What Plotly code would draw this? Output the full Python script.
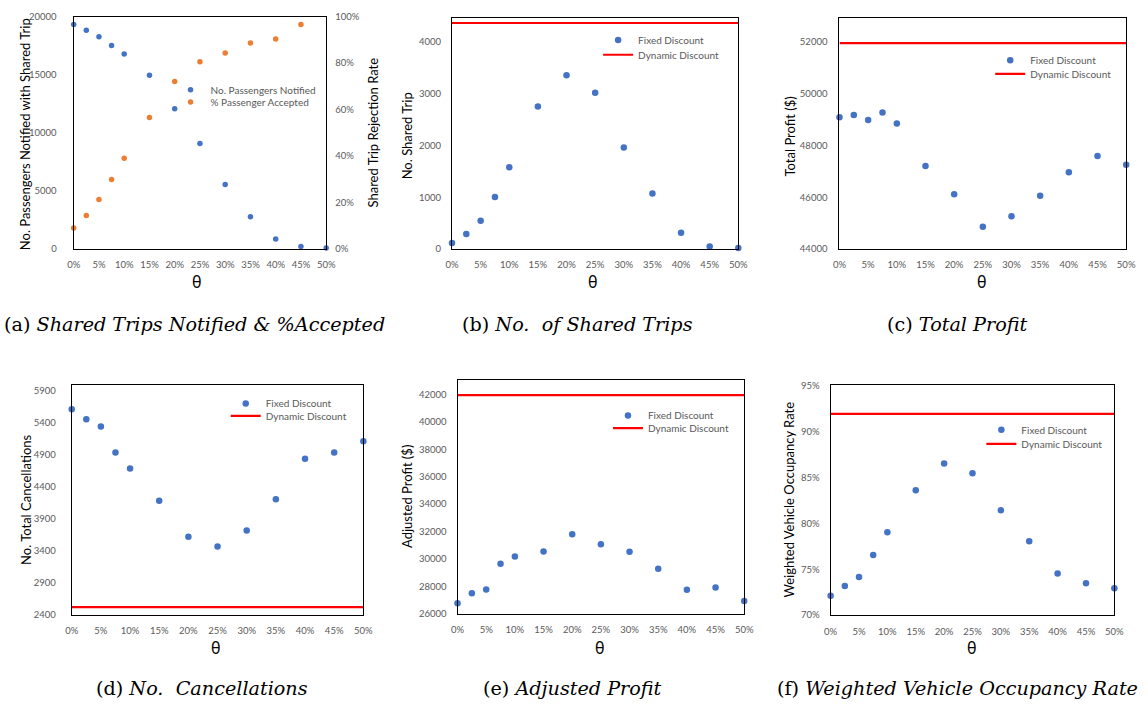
import plotly.graph_objects as go

W, H = 1148, 711

# ---------------- data ----------------
theta = [0.0, 0.025, 0.05, 0.075, 0.10, 0.15, 0.20, 0.25, 0.30, 0.35, 0.40, 0.45, 0.50]
theta_accepted = theta[:12]

passengers_notified = [19320, 18810, 18250, 17510, 16780, 14940, 12060, 9070, 5540, 2770, 850, 200, 85]
pct_accepted = [0.090, 0.144, 0.213, 0.299, 0.390, 0.565, 0.720, 0.805, 0.843, 0.886, 0.903, 0.966]

shared_trips_fixed = [114, 286, 546, 1003, 1581, 2756, 3359, 3022, 1962, 1073, 311, 44, 19]
shared_trips_dynamic = 4370

profit_fixed = [49090, 49180, 48990, 49280, 48850, 47210, 46110, 44860, 45260, 46060, 46970, 47590, 47260]
profit_dynamic = 51960

cancel_fixed = [5603, 5445, 5333, 4929, 4679, 4178, 3616, 3463, 3713, 4198, 4832, 4929, 5103]
cancel_dynamic = 2518

adj_profit_fixed = [26770, 27490, 27770, 29640, 30170, 30550, 31800, 31080, 30530, 29280, 27750, 27920, 26930]
adj_profit_dynamic = 41950

occupancy_fixed = [0.7211, 0.7319, 0.7415, 0.7655, 0.7903, 0.8361, 0.8655, 0.8547, 0.8143, 0.7806, 0.7455, 0.7347, 0.7294]
occupancy_dynamic = 0.9196

legend_fixed = "Fixed Discount"
legend_dynamic = "Dynamic Discount"

captions = [
    ("(a) ", "Shared Trips Notified &amp; %Accepted"),
    ("(b) ", "No.  of Shared Trips"),
    ("(c) ", "Total Profit"),
    ("(d) ", "No.  Cancellations"),
    ("(e) ", "Adjusted Profit"),
    ("(f) ", "Weighted Vehicle Occupancy Rate"),
]
y_titles = [
    "No. Passengers Notified with Shared Trip",
    "No. Shared Trip",
    "Total Profit ($)",
    "No. Total Cancellations",
    "Adjusted Profit ($)",
    "Weighted Vehicle Occupancy Rate",
]

# ---------------- style ----------------
BLUE = "#4472C4"
ORANGE = "#ED7D31"
RED = "#FF0000"
GRAY = "#595959"
SANS = "Lato, 'Noto Sans', sans-serif"
SERIF = "'DejaVu Serif', serif"

def px_x(p):
    return p / W

def px_y(p):
    return 1 - p / H

# plot areas in pixels: (left, right, top, bottom)
areas = [
    (67.7, 324.0, 10.7, 246.7),
    (451.7, 742.3, 11.7, 246.7),
    (845.0, 1136.0, 12.3, 246.7),
    (65.7, 361.7, 385.0, 618.3),
    (457.3, 748.3, 380.0, 617.3),
    (836.0, 1124.0, 385.0, 618.7),
]

fig = go.Figure()

def ax_names(i):
    s = "" if i == 0 else str(i + 1)
    return "x" + s, "y" + s, "xaxis" + s, "yaxis" + s

layout = dict(
    width=W, height=H,
    margin=dict(l=0, r=0, t=0, b=0),
    paper_bgcolor="white", plot_bgcolor="white",
    showlegend=True,
    font=dict(family=SANS, color=GRAY),
)

y_specs = [
    dict(range=[0, 20000], dtick=5000, tick0=0, tickformat="d", standoff=14),
    dict(range=[0, 4476], dtick=1000, tick0=0, tickformat="d", standoff=8),
    dict(range=[44000, 52930], dtick=2000, tick0=44000, tickformat="d", standoff=9),
    dict(range=[2400, 5980], dtick=500, tick0=2400, tickformat="d", standoff=13),
    dict(range=[26000, 43050], dtick=2000, tick0=26000, tickformat="d", standoff=8),
    dict(range=[0.70, 0.951], dtick=0.05, tick0=0.70, tickformat=".0%", standoff=8),
]

for i, (l, r, t, b) in enumerate(areas):
    xn, yn, xk, yk = ax_names(i)
    layout[xk] = dict(
        domain=[px_x(l), px_x(r)], anchor=yn, range=[0, 0.5], dtick=0.05, tick0=0,
        tickformat=".0%", showgrid=False, zeroline=False, showline=True, mirror=True,
        linecolor="black", linewidth=1.3, ticks="", ticklabelstandoff=7,
        tickfont=dict(family=SANS, size=9.5, color=GRAY),
    )
    ys = y_specs[i]
    layout[yk] = dict(
        domain=[px_y(b), px_y(t)], anchor=xn, range=ys["range"], dtick=ys["dtick"],
        tick0=ys["tick0"], tickformat=ys["tickformat"], showgrid=False, zeroline=False,
        showline=True, mirror=True, linecolor="black", linewidth=1.3, ticks="",
        ticklabelstandoff=ys["standoff"],
        tickfont=dict(family=SANS, size=9.5, color=GRAY),
    )

# right axis for panel (a)
layout["yaxis7"] = dict(
    overlaying="y", anchor="x", side="right", range=[0, 1], dtick=0.2, tick0=0,
    tickformat=".0%", showgrid=False, zeroline=False, showline=False, ticks="",
    ticklabelstandoff=8, tickfont=dict(family=SANS, size=9.5, color=GRAY),
)

# ---------------- traces ----------------
def add_legend(name, x_px, y_px):
    layout[name] = dict(
        x=px_x(x_px), y=px_y(y_px), xanchor="left", yanchor="middle",
        xref="paper", yref="paper", bgcolor="rgba(0,0,0,0)", borderwidth=0,
        font=dict(family=SANS, size=10, color=GRAY),
        itemwidth=30,
    )

mk = dict(size=6.5, color=BLUE)

# (a)
fig.add_trace(go.Scatter(x=theta, y=passengers_notified, mode="markers", name="No. Passengers Notified",
                         marker=dict(size=5.5, color=BLUE), xaxis="x", yaxis="y",
                         cliponaxis=False, legend="legend"))
fig.add_trace(go.Scatter(x=theta_accepted, y=pct_accepted, mode="markers", name="% Passenger Accepted",
                         marker=dict(size=5.5, color=ORANGE), xaxis="x", yaxis="y7",
                         cliponaxis=False, legend="legend2"))
add_legend("legend", 166, 85.0)
add_legend("legend2", 166, 97.5)

panel_data = [
    (shared_trips_fixed, shared_trips_dynamic, (600, 34.5, 49.5)),
    (profit_fixed, profit_dynamic, (998, 55.0, 69.0)),
    (cancel_fixed, cancel_dynamic, (222, 403.7, 416.3)),
    (adj_profit_fixed, adj_profit_dynamic, (610, 416.0, 428.7)),
    (occupancy_fixed, occupancy_dynamic, (989, 430.3, 444.7)),
]

leg_idx = 3
for k, (fixed, dyn, (lx, ly1, ly2)) in enumerate(panel_data):
    i = k + 1
    xn, yn, _, _ = ax_names(i)
    l1 = "legend" + str(leg_idx)
    l2 = "legend" + str(leg_idx + 1)
    leg_idx += 2
    fig.add_trace(go.Scatter(x=theta, y=fixed, mode="markers", name=legend_fixed,
                             marker=mk, xaxis=xn, yaxis=yn, cliponaxis=False, legend=l1))
    fig.add_trace(go.Scatter(x=[theta[0], theta[-1]], y=[dyn, dyn], mode="lines", name=legend_dynamic,
                             line=dict(color=RED, width=2.2), xaxis=xn, yaxis=yn, legend=l2))
    add_legend(l1, lx, ly1)
    add_legend(l2, lx, ly2)

# ---------------- annotations ----------------
ann = []
ytitle_pos = [(19, 130.5), (405.7, 131.7), (794.3, 133), (19.3, 501.7), (406.7, 498), (793.3, 501.7)]
theta_pos = [(193, 280), (595, 280), (990, 280), (212.3, 651.7), (602.3, 651.7), (980, 652)]
caption_pos = [(-5, 323), (460, 323), (891, 323), (88, 693), (481, 693), (780, 693)]

for i in range(6):
    x, y = ytitle_pos[i]
    ann.append(dict(x=px_x(x), y=px_y(y), xref="paper", yref="paper", text=y_titles[i],
                    textangle=-90, showarrow=False, xanchor="center", yanchor="middle",
                    font=dict(family=SANS, size=13, color="#000000")))
    x, y = theta_pos[i]
    ann.append(dict(x=px_x(x), y=px_y(y), xref="paper", yref="paper", text="θ",
                    showarrow=False, xanchor="center", yanchor="middle",
                    font=dict(family="'Noto Sans', sans-serif", size=16, color="#000000")))
    x, y = caption_pos[i]
    lab, cap = captions[i]
    ann.append(dict(x=px_x(x), y=px_y(y), xref="paper", yref="paper",
                    text=lab + "<i>" + cap + "</i>",
                    showarrow=False, xanchor="left", yanchor="middle",
                    font=dict(family=SERIF, size=19.2, color="#000000")))

# right title of (a)
ann.append(dict(x=px_x(372), y=px_y(128), xref="paper", yref="paper", text="Shared Trip Rejection Rate",
                textangle=-90, showarrow=False, xanchor="center", yanchor="middle",
                font=dict(family=SANS, size=13, color="#000000")))

layout["annotations"] = ann
fig.update_layout(**layout)
fig.write_html("out.html", config={"displayModeBar": False},
               post_script="document.body.style.margin='0px';")
